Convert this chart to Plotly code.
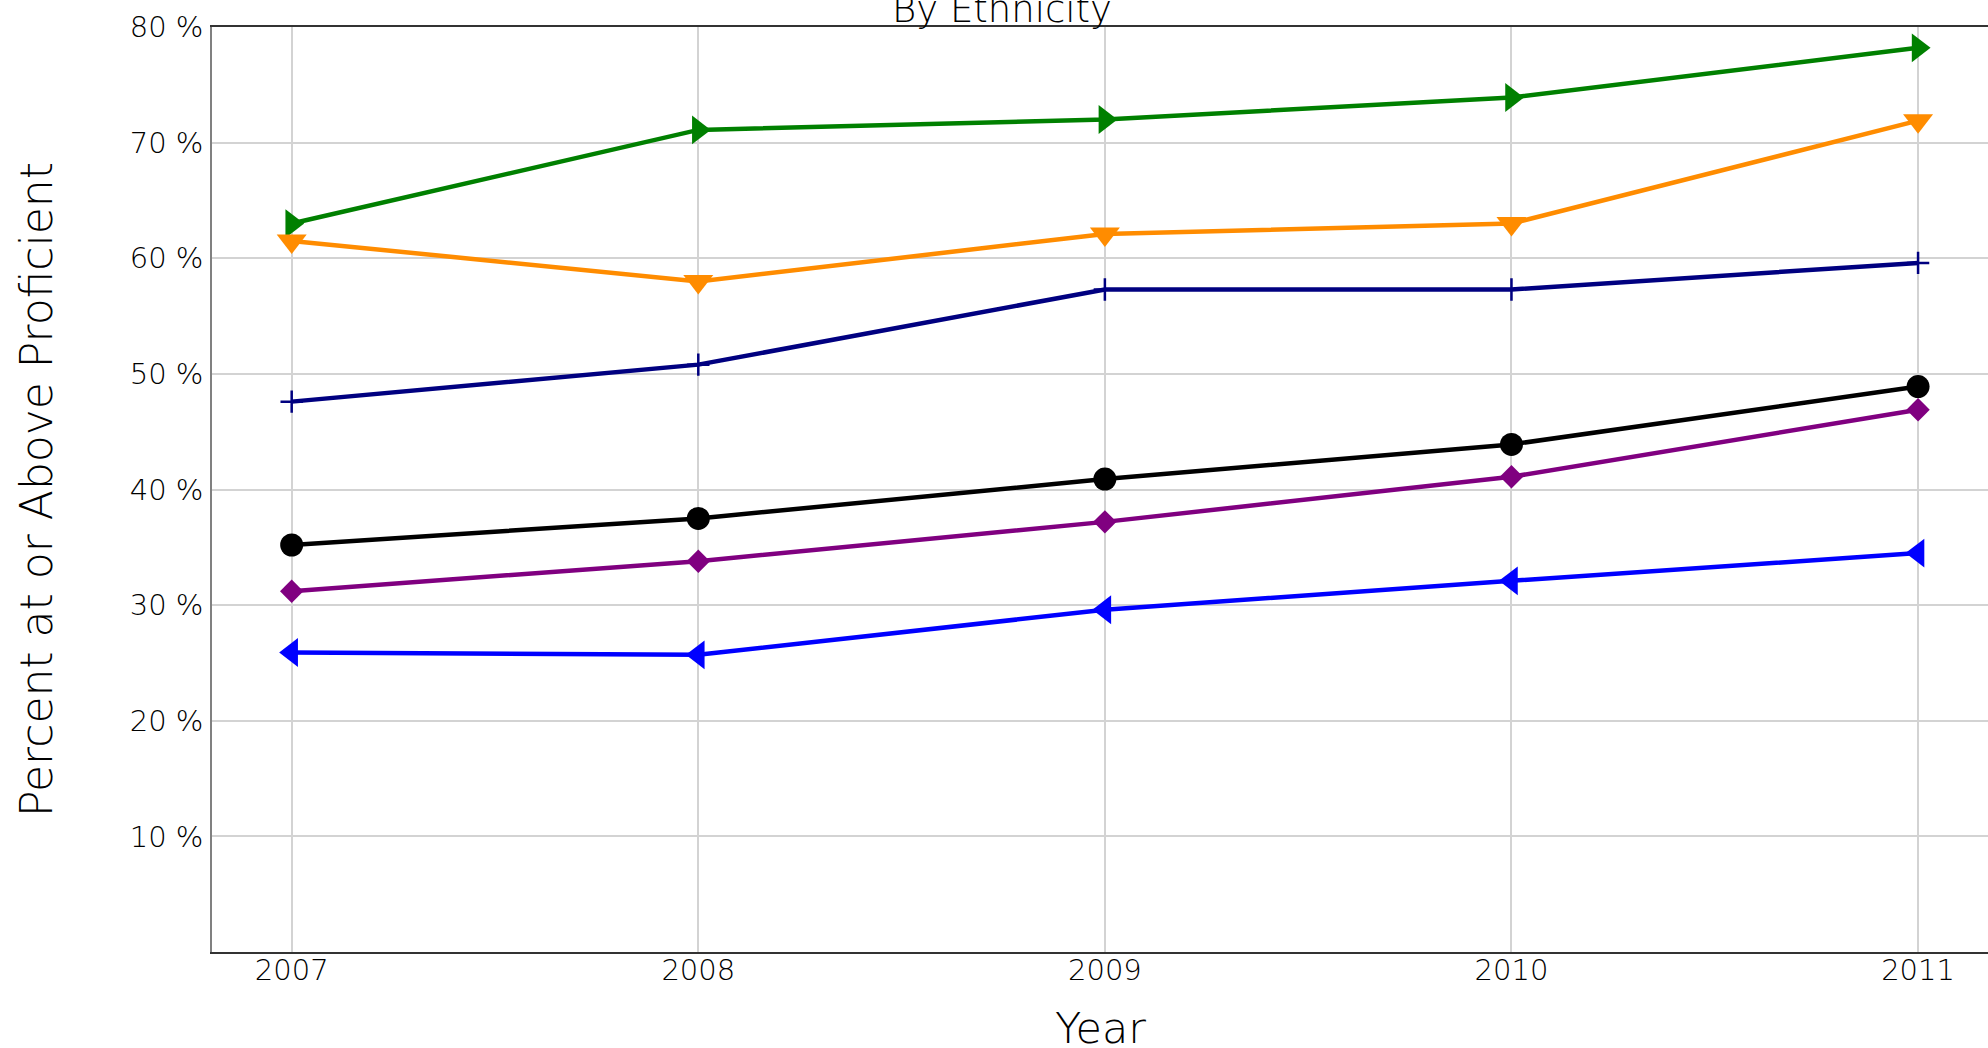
import plotly.graph_objects as go

years = [2007, 2008, 2009, 2010, 2011]
year_labels = ["2007", "2008", "2009", "2010", "2011"]

series_names = ["Asian", "White", "All Students", "Overall", "Hispanic", "Black"]
green_vals = [63.0, 71.1, 72.0, 73.9, 78.2]
orange_vals = [61.5, 58.0, 62.1, 63.0, 71.9]
navy_vals = [47.6, 50.8, 57.3, 57.3, 59.6]
black_vals = [35.2, 37.5, 40.9, 43.9, 48.9]
purple_vals = [31.2, 33.8, 37.2, 41.1, 46.9]
blue_vals = [25.9, 25.7, 29.6, 32.1, 34.5]

y_ticks = [10, 20, 30, 40, 50, 60, 70, 80]
y_tick_labels = ["10 %", "20 %", "30 %", "40 %", "50 %", "60 %", "70 %", "80 %"]

FONT = "DejaVu Sans"
TXT = "#000000"

styles = [
    (green_vals, "#008000", "triangle-right", 25, 0),
    (orange_vals, "#FF8C00", "triangle-down", 26, 0),
    (navy_vals, "#000080", "cross-thin", 16, 2.5),
    (black_vals, "#000000", "circle", 23, 0),
    (purple_vals, "#800080", "diamond", 18, 0),
    (blue_vals, "#0000FF", "triangle-left", 25, 0),
]

fig = go.Figure()
for name, (vals, col, sym, sz, lw) in zip(series_names, styles):
    fig.add_trace(go.Scatter(
        x=years, y=vals, name=name, mode="lines+markers",
        line=dict(color=col, width=4.5),
        marker=dict(symbol=sym, size=sz, color=col,
                    line=dict(color=col, width=lw)),
    ))

fig.update_layout(
    width=1988, height=1048,
    margin=dict(l=212, r=0, t=27, b=96, autoexpand=False),
    paper_bgcolor="white", plot_bgcolor="white",
    showlegend=False,
    font=dict(family=FONT, color=TXT, weight=300),
)

fig.add_annotation(
    text="By Ethnicity", xref="paper", yref="paper", x=0.4448, y=1,
    xanchor="center", yanchor="bottom", yshift=-6, showarrow=False,
    font=dict(family=FONT, size=37, color=TXT, weight=300),
)
fig.add_annotation(
    text="Year", xref="paper", yref="paper", x=0.5, y=0,
    xanchor="center", yanchor="top", yshift=-49, showarrow=False,
    font=dict(family=FONT, size=43, color=TXT, weight=300),
)

fig.update_xaxes(
    range=[2006.804, 2011.172], automargin=False,
    tickvals=years, ticktext=year_labels,
    tickfont=dict(size=29, family=FONT, color=TXT, weight=300),
    showgrid=True, gridcolor="#d3d3d3", gridwidth=2,
    showline=True, linecolor="#333333", linewidth=1.5, mirror=True,
    ticks="", zeroline=False, ticklabelstandoff=-9,
)
fig.update_yaxes(
    range=[0, 80], automargin=False,
    tickvals=y_ticks, ticktext=y_tick_labels,
    tickfont=dict(size=29, family=FONT, color=TXT, weight=300),
    showgrid=True, gridcolor="#d3d3d3", gridwidth=2,
    showline=True, linecolor="#808080", linewidth=1.5, mirror=False,
    ticks="outside", ticklen=1, tickcolor="rgba(0,0,0,0)", zeroline=False,
    title=dict(text="Percent at or Above Proficient", font=dict(size=44, family=FONT, color=TXT, weight=300), standoff=63),
)

fig.write_html(
    "out.html",
    config={"displayModeBar": False},
    post_script="document.body.style.margin='0';document.body.style.overflow='hidden';",
)
